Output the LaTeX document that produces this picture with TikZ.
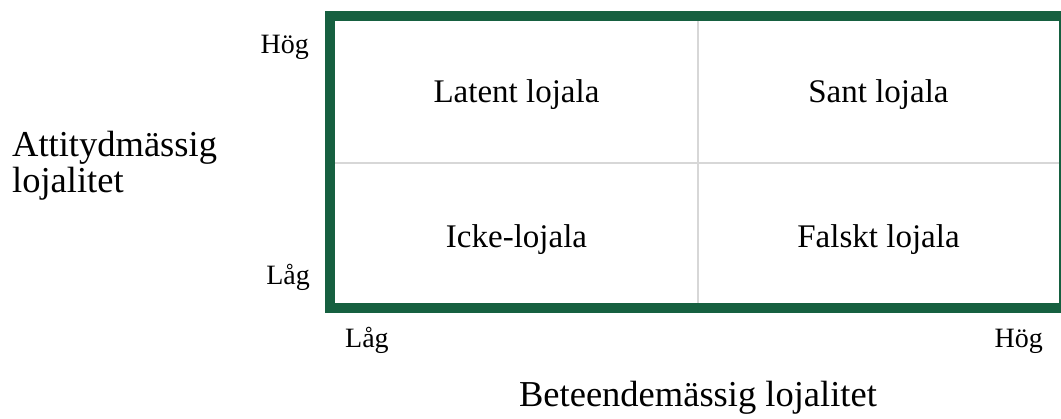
\documentclass[tikz,border=0pt]{standalone}
\usepackage{fontspec}
\setmainfont{Liberation Serif}
\definecolor{framegreen}{RGB}{22,96,64}
\definecolor{gridgray}{RGB}{215,215,215}
\tikzset{
  lbl/.style={inner sep=0pt, font=\fontsize{28}{28}\selectfont},
  celltext/.style={inner sep=0pt, anchor=base, font=\fontsize{33}{33}\selectfont},
  titletext/.style={inner sep=0pt, font=\fontsize{36.5}{36}\selectfont},
  frame/.style={draw=framegreen, line width=10pt},
  gridline/.style={draw=gridgray, line width=1.5pt}
}
\begin{document}
\begin{tikzpicture}[x=1pt,y=-1pt]
\useasboundingbox (0,0) rectangle (1061,419);
% grid
\coordinate (vt) at (698,21);
\coordinate (vb) at (698,303);
\coordinate (hl) at (335,163);
\coordinate (hr) at (1059,163);
\draw[gridline] (vt) -- (vb);
\draw[gridline] (hl) -- (hr);
% frame
\coordinate (ftl) at (330,16);
\coordinate (fbr) at (1064,308);
\draw[frame] (ftl) rectangle (fbr);
% cells
\node[celltext] (latent) at (516.5,103) {Latent lojala};
\node[celltext] (sant) at (878.5,103) {Sant lojala};
\node[celltext] (icke) at (516.5,248) {Icke-lojala};
\node[celltext] (falskt) at (878.5,248) {Falskt lojala};
% axis labels
\node[lbl, anchor=base east] (yhog) at (309,54) {Hög};
\node[lbl, anchor=base east] (ylag) at (310,285) {Låg};
\node[lbl, anchor=base west] (xlag) at (345,348) {Låg};
\node[lbl, anchor=base east] (xhog) at (1043,348) {Hög};
% titles
\node[titletext, anchor=base west, align=left] (ytitle) at (12,193) {Attitydmässig\\lojalitet};
\node[titletext, anchor=base] (xtitle) at (698,407) {Beteendemässig lojalitet};
\end{tikzpicture}
\end{document}
